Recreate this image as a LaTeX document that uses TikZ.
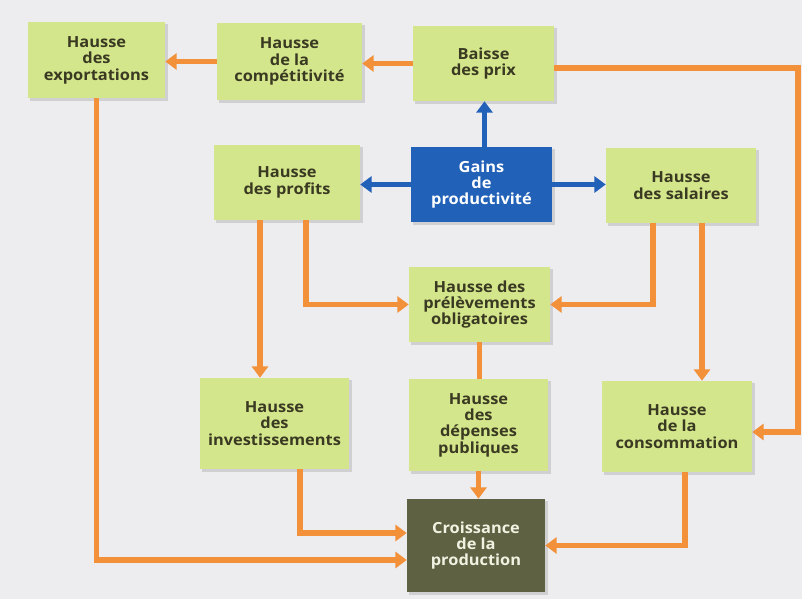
\documentclass[tikz,border=0pt]{standalone}
\usepackage{fontspec}
\setmainfont{Open Sans}[FakeStretch=1.07]
\usetikzlibrary{calc,arrows.meta}
\definecolor{boxgreen}{HTML}{D4E68C}
\definecolor{boxblue}{HTML}{2161B8}
\definecolor{boxolive}{HTML}{5E6242}
\definecolor{arrorange}{HTML}{F2913A}
\definecolor{txtdark}{HTML}{3A3A22}
\definecolor{txtlight}{HTML}{F1F3E2}
\definecolor{bg}{HTML}{EDEDF0}
\tikzset{
  box/.style={fill=boxgreen, text=txtdark, align=center, inner sep=0pt,
    font=\bfseries\fontsize{11.5}{12.3}\selectfont},
  bluebox/.style={box, fill=boxblue, text=white},
  olivebox/.style={box, fill=boxolive, text=txtlight},
  oarr/.style={draw=arrorange, line width=4.2pt, -{Triangle[length=8.5pt,width=12pt]}},
  oline/.style={draw=arrorange, line width=4.2pt},
  barr/.style={draw=boxblue, line width=4.2pt, -{Triangle[length=8.5pt,width=12pt]}},
  shadowbox/.style={fill=black, opacity=0.12}
}
\begin{document}
\begin{tikzpicture}[x=0.75pt,y=-0.75pt]
\fill[bg] (0,0) rectangle (802,599);
\useasboundingbox (0,0) rectangle (802,599);
% shadows
\foreach \cx/\cy/\w/\h in {96.5/60/137/76, 289.5/61.5/145/77, 483.5/63.5/141/75,
  481.5/184.5/141/75, 287/182.5/146/75, 681/185.5/150/75, 479.5/304.5/141/75,
  478.5/425/139/92, 476/545.5/138/93, 677/426.5/150/91, 274.5/423.5/149/91}
  \fill[shadowbox] (\cx-\w/2+2,\cy-\h/2+2) rectangle (\cx+\w/2+3,\cy+\h/2+3);
% boxes
\node[box, minimum width=137*0.75pt, minimum height=76*0.75pt] (exp) at (96.5,60) {Hausse\\des\\exportations};
\node[box, minimum width=145*0.75pt, minimum height=77*0.75pt] (comp) at (289.5,61.5) {Hausse\\de la\\compétitivité};
\node[box, minimum width=141*0.75pt, minimum height=75*0.75pt] (prix) at (483.5,63.5) {Baisse\\des prix};
\node[bluebox, minimum width=141*0.75pt, minimum height=75*0.75pt] (gains) at (481.5,184.5) {Gains\\de\\productivité};
\node[box, minimum width=146*0.75pt, minimum height=75*0.75pt] (profits) at (287,182.5) {Hausse\\des profits};
\node[box, minimum width=150*0.75pt, minimum height=75*0.75pt] (sal) at (681,185.5) {Hausse\\des salaires};
\node[box, minimum width=141*0.75pt, minimum height=75*0.75pt] (prel) at (479.5,304.5) {Hausse des\\prélèvements\\obligatoires};
\node[box, minimum width=139*0.75pt, minimum height=92*0.75pt] (dep) at (478.5,425) {Hausse\\des\\dépenses\\publiques};
\node[olivebox, minimum width=138*0.75pt, minimum height=93*0.75pt] (croiss) at (476,545.5) {Croissance\\de la\\production};
\node[box, minimum width=150*0.75pt, minimum height=91*0.75pt] (conso) at (677,426.5) {Hausse\\de la\\consommation};
\node[box, minimum width=149*0.75pt, minimum height=91*0.75pt] (inv) at (274.5,423.5) {Hausse\\des\\investissements};
% helper coordinates
\coordinate (r1) at (798,68);
\coordinate (p1) at ($(profits.south)+(-27,0)$);
\coordinate (p2) at ($(profits.south)+(19,0)$);
\coordinate (s1) at ($(sal.south)+(-28,0)$);
\coordinate (s2) at ($(sal.south)+(21,0)$);
\coordinate (i1) at ($(inv.south)+(25.5,0)$);
\coordinate (c1) at ($(conso.south)+(8,0)$);
\coordinate (g1) at ($(gains.north)+(3,0)$);
\coordinate (e1) at ($(croiss.west)+(0,14.5)$);
\coordinate (e2) at ($(croiss.west)+(0,-12.5)$);
\coordinate (k1) at ($(conso.east)+(0,5.5)$);
% orange connectors
\draw[oarr] (comp.west) -- (comp.west -| exp.east);
\draw[oarr] (prix.west) -- (prix.west -| comp.east);
\draw[oarr] (prix.east |- r1) -- (r1) |- (k1);
\draw[oarr] (exp.south) |- (e1);
\draw[oarr] (p1) -- (p1 |- inv.north);
\draw[oarr] (p2) |- (prel.west);
\draw[oarr] (s1) |- (prel.east);
\draw[oarr] (s2) -- (s2 |- conso.north);
\draw[oline] (prel.south) -- (prel.south |- dep.north);
\draw[oarr] (dep.south) -- (dep.south |- croiss.north);
\draw[oarr] (i1) |- (e2);
\draw[oarr] (c1) |- (croiss.east);
% blue connectors
\draw[barr] (g1) -- (g1 |- prix.south);
\draw[barr] (gains.west) -- (gains.west -| profits.east);
\draw[barr] (gains.east) -- (gains.east -| sal.west);
\end{tikzpicture}
\end{document}
